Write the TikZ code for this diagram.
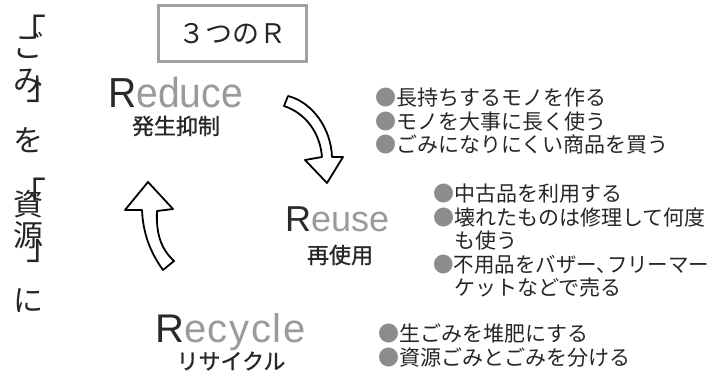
\documentclass[tikz,border=0pt]{standalone}
\usepackage{graphicx}
\usepackage{fontspec}
\setmainfont{Liberation Sans}
\newfontfamily\jp{Noto Sans CJK JP}
\newfontfamily\jpm[FakeBold=1]{Noto Sans CJK JP}
\newfontfamily\latsp[LetterSpace=4]{Liberation Sans}
\definecolor{txt}{HTML}{262626}
\definecolor{rdark}{HTML}{2A2A2A}
\definecolor{rgray}{HTML}{9A9A9A}
\definecolor{bullet}{HTML}{8C8C8C}
\definecolor{boxgray}{HTML}{A0A0A0}
\newcommand{\bul}{{\color{bullet}●}}
\begin{document}
\begin{tikzpicture}[x=1pt,y=-1pt,
  titlebox/.style={draw=boxgray, line width=2.2pt, minimum width=148pt, minimum height=56pt, inner sep=0pt, text=txt, font=\jp\fontsize{27}{27}\selectfont},
  bigword/.style={inner sep=0pt, anchor=base west},
  sublabel/.style={inner sep=0pt, text=txt, font=\jpm\fontsize{22}{22}\selectfont},
  listtext/.style={inner sep=0pt, anchor=north west, align=left, text=txt, font=\jp\fontsize{21}{23.5}\selectfont},
  vchar/.style={inner sep=0pt, text=txt, font=\jp\fontsize{30}{30}\selectfont},
  vbracket/.style={inner sep=0pt, text=txt, font=\jp\fontsize{36}{36}\selectfont},
  blockarrow/.style={draw=black, fill=white, line width=1.8pt, line join=round}
]
\useasboundingbox (0,0) rectangle (712,374);

% vertical title
\node[vbracket, anchor=north] (v1) at (28,15) {「};
\node[vchar] (v2) at (28,45) {ご};
\node[vchar] (v3) at (28,81) {み};
\node[vbracket, anchor=south] (v4) at (44,103) {」};
\node[vchar] (v5) at (28,140) {を};
\node[vbracket, anchor=north] (v6) at (28,178) {「};
\node[vchar] (v7) at (28,204) {資};
\node[vchar] (v8) at (28,235) {源};
\node[vbracket, anchor=south] (v9) at (44,263) {」};
\node[vchar] (v10) at (28,301) {に};

% title box
\node[titlebox] (title) at (232.5,33.5) {３つのＲ};

% Reduce
\node[bigword] (reduce) at (108,108) {\fontsize{42}{42}\selectfont\scalebox{0.93}[1]{\color{rdark}R\color{rgray}educe}};
\node[sublabel] (reducejp) at (176,126) {発生抑制};

% Reuse
\node[bigword] (reuse) at (285,232) {\fontsize{36}{36}\selectfont{\color{rdark}R}{\color{rgray}euse}};
\node[sublabel] (reusejp) at (340,255) {再使用};

% Recycle
\node[bigword] (recycle) at (155,342) {\latsp\fontsize{40}{40}\selectfont{\color{rdark}R}{\color{rgray}ecycle}};
\node[sublabel] (recyclejp) at (231,361) {リサイクル};

% lists
\node[listtext] (reducelist) at (375,88) {\bul 長持ちするモノを作る\\\bul モノを大事に長く使う\\\bul ごみになりにくい商品を買う};
\node[listtext] (reuselist) at (433,184) {\bul 中古品を利用する\\\bul 壊れたものは修理して何度\\\hspace*{1em}も使う\\\scalebox{0.975}[1]{\bul 不用品をバザー、\hspace{-0.5em}フリーマー}\\\hspace*{1em}ケットなどで売る};
\node[listtext] (recyclelist) at (378,324) {\bul 生ごみを堆肥にする\\\bul 資源ごみとごみを分ける};

% block arrows
\draw[blockarrow] (284,106) -- (288,96) .. controls (312,102) and (331,128) .. (332,157) -- (343,157) -- (327,183) -- (305,160) -- (322,157) .. controls (320,132) and (305,113) .. (284,106) -- cycle;
\draw[blockarrow] (148,182) -- (173,209) -- (157,211) .. controls (156,232) and (160,248) .. (174,261) -- (163,270) .. controls (150,252) and (143,233) .. (142,210) -- (125,210) -- cycle;
\end{tikzpicture}
\end{document}
